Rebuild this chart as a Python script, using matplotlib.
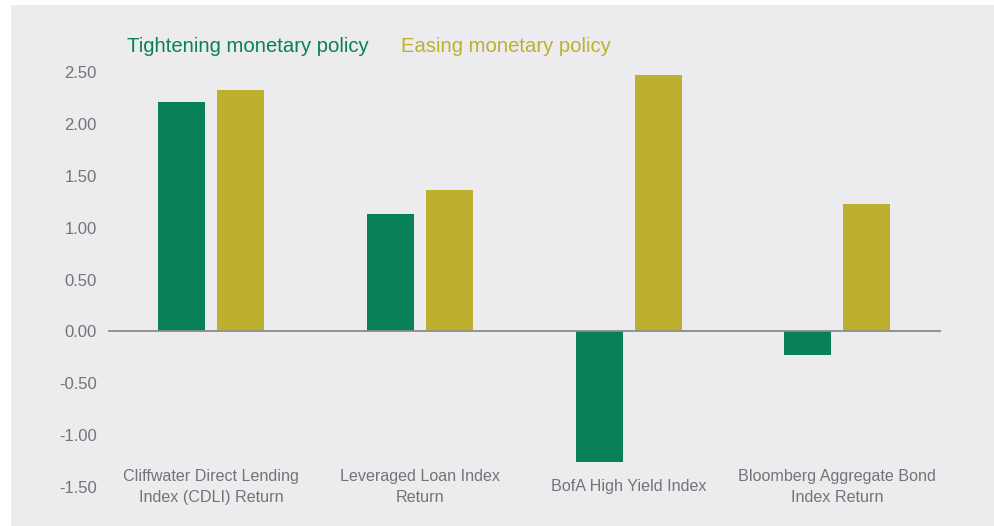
import numpy as np
import matplotlib
matplotlib.use('Agg')
import matplotlib.pyplot as plt
from matplotlib.patches import Rectangle

categories = ['Cliffwater Direct Lending\nIndex (CDLI) Return',
              'Leveraged Loan Index\nReturn',
              'BofA High Yield Index',
              'Bloomberg Aggregate Bond\nIndex Return']
tightening = [2.21, 1.13, -1.26, -0.23]
easing = [2.33, 1.36, 2.47, 1.23]
yticks = [2.5, 2.0, 1.5, 1.0, 0.5, 0.0, -0.5, -1.0, -1.5]

GREEN = '#08805a'
OLIVE = '#bdb02f'
BG = '#ececee'
GREY = '#747478'

plt.rcParams['font.family'] = ['Liberation Sans', 'DejaVu Sans']

fig = plt.figure(figsize=(9.95, 5.26), dpi=100, facecolor='white')
# grey panel behind everything, small white margin on top/left
fig.patches.append(Rectangle((11 / 995, 0), 1, 1 - 5 / 526, transform=fig.transFigure,
                             facecolor=BG, edgecolor='none', zorder=-10))

ax = fig.add_axes([108 / 995, 39 / 526, 833 / 995, 415 / 526])
ax.set_facecolor('none')

x = np.arange(len(categories))
w = 0.225
off = 0.141
b1 = ax.bar(x - off, tightening, w, color=GREEN, label='Tightening monetary policy', zorder=2)
b2 = ax.bar(x + off, easing, w, color=OLIVE, label='Easing monetary policy', zorder=2)
ax.axhline(0, color='#8c8c8c', lw=1.3, zorder=3)

ax.set_xlim(-0.493, 3.496)
ax.set_ylim(-1.5, 2.5)
ax.set_yticks(yticks)
ax.set_yticklabels([f'{v:.2f}' for v in yticks])
ax.tick_params(axis='y', length=0, pad=8, labelsize=12, labelcolor=GREY)
ax.set_xticks([])
for s in ax.spines.values():
    s.set_visible(False)

for xi, lab in zip(x, categories):
    ax.text(xi, -1.5, lab, ha='center', va='center', fontsize=11.6, color=GREY,
            linespacing=1.5, clip_on=False)

leg = ax.legend(loc='lower left', bbox_to_anchor=(127 / 995, 1 - 56 / 526), bbox_transform=fig.transFigure,
                ncol=2, frameon=False, handlelength=0, handletextpad=0, columnspacing=1.6,
                fontsize=14.6, labelcolor=[GREEN, OLIVE], borderaxespad=0, borderpad=0)
for h in leg.legend_handles:
    h.set_visible(False)

fig.savefig('out.png', dpi=100, facecolor='white')
